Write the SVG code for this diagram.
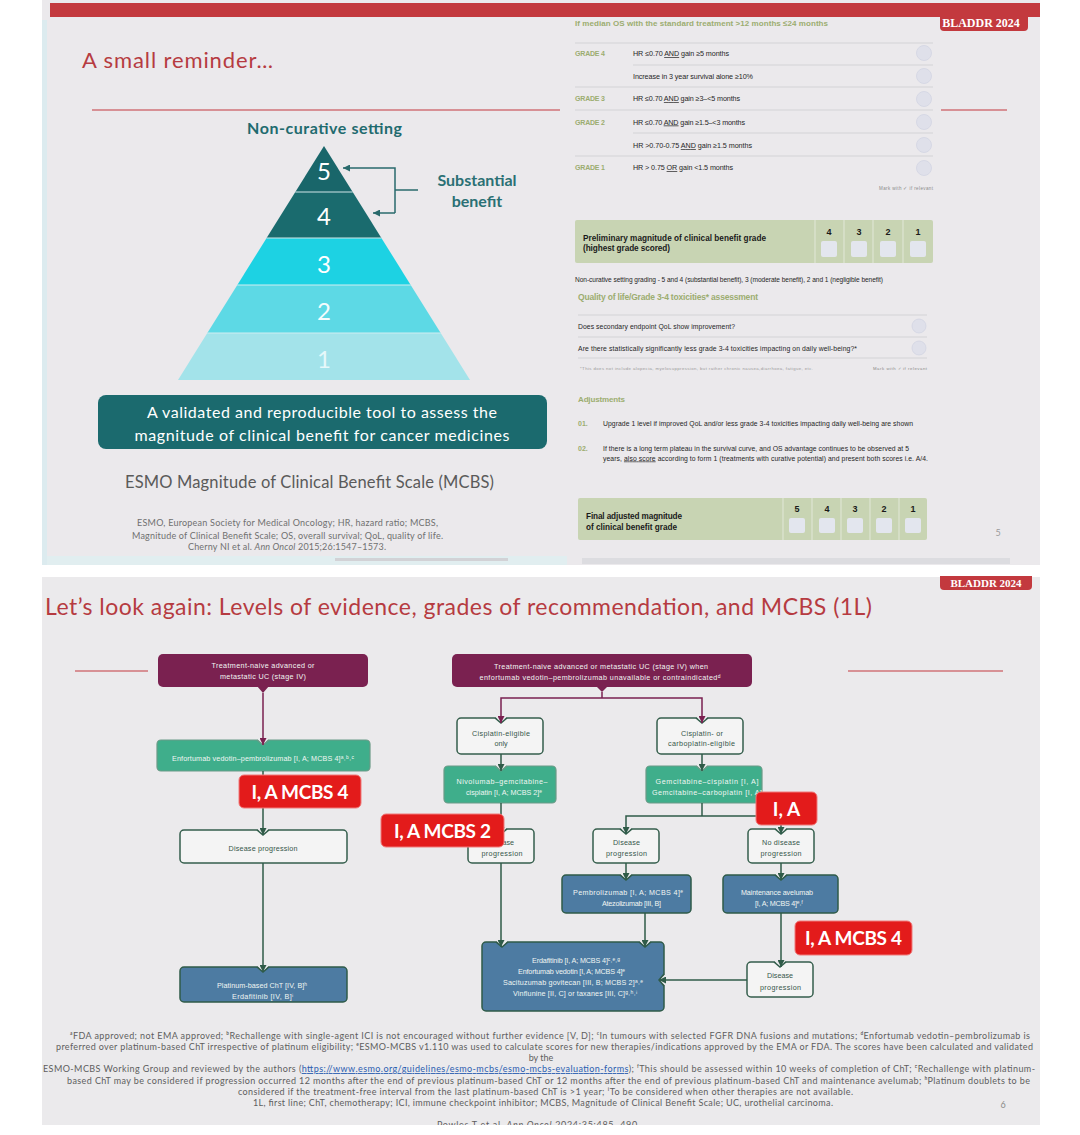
<svg xmlns="http://www.w3.org/2000/svg" width="1080" height="1135" viewBox="0 0 1080 1135">
<defs>
<style>
.lato{font-family:Lato,"Liberation Sans",sans-serif}
.fc{font-family:"Liberation Sans",Arial,sans-serif;font-size:7.2px;text-anchor:middle}
.tw{fill:#f1f6f3}
.td{fill:#36574a}
.pbox{fill:#7a2150}
.gbox{fill:#3fae8b;stroke:#6b9a87;stroke-width:1.2}
.bbox{fill:#4d7ba2;stroke:#2f5b48;stroke-width:1.5}
.wbox{fill:#f4f4f4;stroke:#355e4c;stroke-width:1.5}
.badge{fill:#e31b1b;stroke:#f07a7a;stroke-width:1}
.bt{font-family:Lato,"Liberation Sans",sans-serif;font-weight:bold;font-size:19px;fill:#ffffff;text-anchor:middle}
.cg{fill:none;stroke:#2f5b48;stroke-width:1.5}
.cp{fill:none;stroke:#7a2150;stroke-width:1.5}
.nf{fill:#ebeaec}
.ng{fill:none;stroke:#6b9a87;stroke-width:1.2}
.nb{fill:none;stroke:#2f5b48;stroke-width:1.5}
.gh{font-family:"Liberation Sans",Arial,sans-serif;font-weight:bold;fill:#9cad70}
.ft{font-family:"Liberation Sans",Arial,sans-serif;fill:#262626}
.row{stroke:#d3d3d6;stroke-width:1}
.circ{fill:#dfe0ea;stroke:#d2d4e2;stroke-width:0.8}
.sq{fill:#e3e6ee}
.dv{stroke:#e2e8d8;stroke-width:1}
.fn{font-family:Lato,"Liberation Sans",sans-serif;font-size:9px;fill:#5e5e5e}
.pyn{font-family:Lato,"Liberation Sans",sans-serif;font-size:24px;text-anchor:middle}
.bl{font-family:"Liberation Serif",serif;font-weight:bold;fill:#ffffff;text-anchor:middle}
</style>
<marker id="ag" viewBox="0 0 10 10" refX="10" refY="5" markerWidth="7" markerHeight="7" markerUnits="userSpaceOnUse" orient="auto"><path d="M0,0 L10,5 L0,10 z" fill="#2f5b48"/></marker>
<marker id="ap" viewBox="0 0 10 10" refX="10" refY="5" markerWidth="7" markerHeight="7" markerUnits="userSpaceOnUse" orient="auto"><path d="M0,0 L10,5 L0,10 z" fill="#7a2150"/></marker>
<marker id="at" viewBox="0 0 10 10" refX="10" refY="5" markerWidth="7" markerHeight="7" markerUnits="userSpaceOnUse" orient="auto"><path d="M0,0 L10,5 L0,10 z" fill="#2a6a6c"/></marker>
</defs>

<rect x="0" y="0" width="1080" height="1135" fill="#ffffff"/>

<!-- ================= TOP SLIDE ================= -->
<g id="slide-top">
<rect x="42" y="0" width="998" height="565" fill="#ebe9ec"/>
<rect x="42" y="20" width="5" height="545" fill="#dcebef"/>
<rect x="50" y="3" width="990" height="14" fill="#c3393e"/>
<path d="M940,14 H1028 V27 Q1028,31 1024,31 H944 Q940,31 940,27 Z" fill="#c3393e"/>
<text class="bl" x="981" y="27" font-size="12">BLADDR 2024</text>
<rect x="47" y="556" width="520" height="9" fill="#e1eef0"/>
<rect x="335" y="558" width="173" height="3" fill="#d2d2d6"/>
<rect x="582" y="558" width="428" height="6" fill="#dcdce0"/>

<text class="lato" x="82" y="68" font-size="22" fill="#b63b41" textLength="191">A small reminder…</text>
<line x1="92" y1="110" x2="560" y2="110" stroke="#c3393e" stroke-width="1.2"/>
<line x1="941" y1="110" x2="1007" y2="110" stroke="#c3393e" stroke-width="1.2"/>

<text class="lato" x="324.5" y="134" font-size="16" font-weight="bold" fill="#1f6b6f" text-anchor="middle" textLength="155">Non-curative setting</text>

<g id="pyramid">
<polygon points="324,146 295.3,192 352.7,192" fill="#19666a"/>
<polygon points="295.3,192 352.7,192 381.4,238 266.6,238" fill="#1a6b6e"/>
<polygon points="266.6,238 381.4,238 410.7,285 237.3,285" fill="#1dd2e3"/>
<polygon points="237.3,285 410.7,285 440.7,333 207.3,333" fill="#5dd9e5"/>
<polygon points="207.3,333 440.7,333 470,380 178,380" fill="#a3e3ea"/>
<line x1="295.3" y1="192" x2="352.7" y2="192" stroke="#cfe5e8" stroke-width="1.2"/>
<line x1="266.6" y1="238" x2="381.4" y2="238" stroke="#cfe5e8" stroke-width="1.2"/>
<line x1="237.3" y1="285" x2="410.7" y2="285" stroke="#cfeef2" stroke-width="1.2"/>
<line x1="207.3" y1="333" x2="440.7" y2="333" stroke="#cfeef2" stroke-width="1.2"/>
<text class="pyn" x="324" y="180" fill="#ffffff">5</text>
<text class="pyn" x="324" y="225" fill="#ffffff">4</text>
<text class="pyn" x="324" y="273" fill="#ffffff">3</text>
<text class="pyn" x="324" y="320" fill="#f4fcfd">2</text>
<text class="pyn" x="324" y="368" fill="#e6f8fa">1</text>
</g>

<g id="bracket" fill="none" stroke="#2a6a6c" stroke-width="1.5">
<polyline points="395,213 395,168 343,168" marker-end="url(#at)"/>
<line x1="395" y1="213" x2="373" y2="213" marker-end="url(#at)"/>
<line x1="395" y1="190" x2="418" y2="190"/>
</g>
<text class="lato" x="477" y="186" font-size="16" font-weight="bold" fill="#2a7074" text-anchor="middle">Substantial</text>
<text class="lato" x="477" y="207" font-size="16" font-weight="bold" fill="#2a7074" text-anchor="middle">benefit</text>

<g id="tool-box">
<rect x="98" y="395" width="449" height="54" rx="8" fill="#1b6a6e"/>
<text class="lato" x="322" y="418" font-size="16" fill="#ffffff" text-anchor="middle" textLength="350">A validated and reproducible tool to assess the</text>
<text class="lato" x="322" y="441" font-size="16" fill="#ffffff" text-anchor="middle" textLength="375">magnitude of clinical benefit for cancer medicines</text>
</g>
<text class="lato" x="309.5" y="488" font-size="16.5" fill="#5a5a5a" text-anchor="middle" textLength="369">ESMO Magnitude of Clinical Benefit Scale (MCBS)</text>
<g class="lato" font-size="9" fill="#707070" text-anchor="middle">
<text x="287.5" y="526" textLength="301">ESMO, European Society for Medical Oncology; HR, hazard ratio; MCBS,</text>
<text x="287.5" y="539" textLength="311">Magnitude of Clinical Benefit Scale; OS, overall survival; QoL, quality of life.</text>
<text x="287" y="550" textLength="198">Cherny NI et al. <tspan font-style="italic">Ann Oncol</tspan> 2015;26:1547–1573.</text>
</g>

<!-- form -->
<g id="form-grades">
<text class="gh" x="575" y="26" font-size="8" textLength="253">If median OS with the standard treatment &gt;12 months ≤24 months</text>
<line class="row" x1="575" y1="43" x2="933" y2="43"/>
<line class="row" x1="633" y1="65" x2="933" y2="65"/>
<line class="row" x1="575" y1="87" x2="933" y2="87"/>
<line class="row" x1="575" y1="110" x2="933" y2="110"/>
<line class="row" x1="633" y1="133" x2="933" y2="133"/>
<line class="row" x1="575" y1="156" x2="933" y2="156"/>
<text class="gh" x="575" y="56" font-size="7" textLength="30">GRADE 4</text>
<text class="gh" x="575" y="101" font-size="7" textLength="30">GRADE 3</text>
<text class="gh" x="575" y="124.5" font-size="7" textLength="30">GRADE 2</text>
<text class="gh" x="575" y="170" font-size="7" textLength="30">GRADE 1</text>
<g class="ft" font-size="7.2">
<text x="633" y="56" textLength="96">HR ≤0.70 <tspan text-decoration="underline">AND</tspan> gain ≥5 months</text>
<text x="633" y="79" textLength="120">Increase in 3 year survival alone ≥10%</text>
<text x="633" y="101" textLength="107">HR ≤0.70 <tspan text-decoration="underline">AND</tspan> gain ≥3–&lt;5 months</text>
<text x="633" y="124.5" textLength="112">HR ≤0.70 <tspan text-decoration="underline">AND</tspan> gain ≥1.5–&lt;3 months</text>
<text x="633" y="148" textLength="119">HR &gt;0.70-0.75 <tspan text-decoration="underline">AND</tspan> gain ≥1.5 months</text>
<text x="633" y="170" textLength="100">HR &gt; 0.75 <tspan text-decoration="underline">OR</tspan> gain &lt;1.5 months</text>
</g>
<circle class="circ" cx="924" cy="53" r="7.5"/>
<circle class="circ" cx="924" cy="76" r="7.5"/>
<circle class="circ" cx="924" cy="99" r="7.5"/>
<circle class="circ" cx="924" cy="122" r="7.5"/>
<circle class="circ" cx="924" cy="145" r="7.5"/>
<circle class="circ" cx="924" cy="168" r="7.5"/>
<text class="ft" x="933" y="190" font-size="4.5" text-anchor="end" textLength="54" style="fill:#8a8a8a">Mark with ✓ if relevant</text>
</g>

<g id="form-preliminary">
<rect x="575" y="220" width="358" height="43" rx="2" fill="#c8d4b3"/>
<line class="dv" x1="815" y1="220" x2="815" y2="263"/>
<line class="dv" x1="844" y1="220" x2="844" y2="263"/>
<line class="dv" x1="873" y1="220" x2="873" y2="263"/>
<line class="dv" x1="903" y1="220" x2="903" y2="263"/>
<text class="ft" x="583" y="240.5" font-size="8.2" font-weight="bold" textLength="183" style="fill:#1a1a1a">Preliminary magnitude of clinical benefit grade</text>
<text class="ft" x="583" y="251" font-size="8.2" font-weight="bold" textLength="87" style="fill:#1a1a1a">(highest grade scored)</text>
<g class="ft" font-size="9" font-weight="bold" text-anchor="middle" style="fill:#1a1a1a">
<text x="829" y="235">4</text><text x="859" y="235">3</text><text x="888" y="235">2</text><text x="918" y="235">1</text>
</g>
<rect class="sq" x="821" y="241" width="16" height="16" rx="2"/>
<rect class="sq" x="851" y="241" width="16" height="16" rx="2"/>
<rect class="sq" x="880" y="241" width="16" height="16" rx="2"/>
<rect class="sq" x="910" y="241" width="16" height="16" rx="2"/>
</g>

<g id="form-qol">
<text class="ft" x="575" y="282" font-size="6.6" textLength="308">Non-curative setting grading - 5 and 4 (substantial benefit), 3 (moderate benefit), 2 and 1 (negligible benefit)</text>
<text class="gh" x="578" y="300" font-size="8.5" textLength="180">Quality of life/Grade 3-4 toxicities* assessment</text>
<line class="row" x1="578" y1="315" x2="927" y2="315"/>
<line class="row" x1="578" y1="337" x2="927" y2="337"/>
<line class="row" x1="578" y1="358" x2="927" y2="358"/>
<text class="ft" x="578" y="328.5" font-size="6.8" textLength="157">Does secondary endpoint QoL show improvement?</text>
<text class="ft" x="578" y="350.5" font-size="6.8" textLength="279">Are there statistically significantly less grade 3-4 toxicities impacting on daily well-being?*</text>
<circle class="circ" cx="919" cy="326" r="7"/>
<circle class="circ" cx="919" cy="348" r="7"/>
<text class="ft" x="580" y="370" font-size="4.3" textLength="233" style="fill:#9a9a9a">*This does not include alopecia, myelosuppression, but rather chronic nausea,diarrhoea, fatigue, etc.</text>
<text class="ft" x="927" y="370" font-size="4.3" text-anchor="end" textLength="54" style="fill:#8a8a8a">Mark with ✓ if relevant</text>
</g>

<g id="form-adjustments">
<text class="gh" x="578" y="401.5" font-size="8" textLength="47">Adjustments</text>
<text class="gh" x="578" y="425.5" font-size="7" font-weight="normal">01.</text>
<text class="ft" x="603" y="425.5" font-size="6.8" textLength="310">Upgrade 1 level if improved QoL and/or less grade 3-4 toxicities impacting daily well-being are shown</text>
<text class="gh" x="578" y="450.5" font-size="7" font-weight="normal">02.</text>
<text class="ft" x="603" y="450.5" font-size="6.8" textLength="306">If there is a long term plateau in the survival curve, and OS advantage continues to be observed at 5</text>
<text class="ft" x="603" y="460.5" font-size="6.8" textLength="325">years, <tspan text-decoration="underline">also score</tspan> according to form 1 (treatments with curative potential) and present both scores i.e. A/4.</text>
</g>

<g id="form-final">
<rect x="578" y="498" width="349" height="42" rx="2" fill="#c8d4b3"/>
<line class="dv" x1="783" y1="498" x2="783" y2="540"/>
<line class="dv" x1="812" y1="498" x2="812" y2="540"/>
<line class="dv" x1="841" y1="498" x2="841" y2="540"/>
<line class="dv" x1="870" y1="498" x2="870" y2="540"/>
<line class="dv" x1="899" y1="498" x2="899" y2="540"/>
<text class="ft" x="586" y="518.5" font-size="8.2" font-weight="bold" textLength="96" style="fill:#1a1a1a">Final adjusted magnitude</text>
<text class="ft" x="586" y="529.5" font-size="8.2" font-weight="bold" textLength="91" style="fill:#1a1a1a">of clinical benefit grade</text>
<g class="ft" font-size="9" font-weight="bold" text-anchor="middle" style="fill:#1a1a1a">
<text x="797" y="512">5</text><text x="827" y="512">4</text><text x="855" y="512">3</text><text x="884" y="512">2</text><text x="913" y="512">1</text>
</g>
<rect class="sq" x="789" y="518" width="16" height="15" rx="2"/>
<rect class="sq" x="819" y="518" width="16" height="15" rx="2"/>
<rect class="sq" x="847" y="518" width="16" height="15" rx="2"/>
<rect class="sq" x="876" y="518" width="16" height="15" rx="2"/>
<rect class="sq" x="905" y="518" width="16" height="15" rx="2"/>
</g>
<text class="lato" x="998" y="536" font-size="9" fill="#9a9a9a" text-anchor="middle">5</text>
</g>

<!-- ================= BOTTOM SLIDE ================= -->
<g id="slide-bottom">
<rect x="42" y="577" width="998" height="548" fill="#ebeaec"/>
<path d="M940,576 H1032 V586 Q1032,590 1028,590 H944 Q940,590 940,586 Z" fill="#c3393e"/>
<text class="bl" x="986" y="587" font-size="11">BLADDR 2024</text>
<text class="lato" x="45" y="615" font-size="23" fill="#b63b41" textLength="827">Let’s look again: Levels of evidence, grades of recommendation, and MCBS (1L)</text>
<line x1="75" y1="671" x2="148" y2="671" stroke="#c3393e" stroke-width="1.2"/>
<line x1="848" y1="671" x2="1003" y2="671" stroke="#c3393e" stroke-width="1.2"/>
</g>

<g id="nodes">
<g id="n-a">
<rect class="pbox" x="158" y="654" width="210" height="33" rx="5"/>
<polygon class="pbox" points="257,686 269,686 263,693"/>
<text class="fc tw" x="263" y="667.5" textLength="103">Treatment-naive advanced or</text>
<text class="fc tw" x="263" y="678.5" textLength="86">metastatic UC (stage IV)</text>
</g>
<g id="n-b">
<rect class="gbox" x="157" y="740" width="213" height="31" rx="4"/>
<polygon class="nf" points="257,738.5 269,738.5 263,745"/>
<polyline class="ng" points="257,740 263,745 269,740"/>
<text class="fc tw" x="263" y="761" textLength="182">Enfortumab vedotin–pembrolizumab [I, A; MCBS 4]ᵃ˒ᵇ˒ᶜ</text>
</g>
<g id="n-c">
<rect class="wbox" x="180" y="830" width="167" height="33" rx="4"/>
<polygon class="nf" points="257,828.5 269,828.5 263,835"/>
<polyline class="nb" points="257,830 263,835 269,830"/>
<text class="fc td" x="263" y="850.5" textLength="69">Disease progression</text>
</g>
<g id="n-d">
<rect class="bbox" x="180" y="967" width="167" height="35" rx="4"/>
<polygon class="nf" points="257,965.5 269,965.5 263,972"/>
<polyline class="nb" points="257,967 263,972 269,967"/>
<text class="fc tw" x="262" y="987.5" textLength="90">Platinum-based ChT [IV, B]ʰ</text>
<text class="fc tw" x="262.5" y="998.5" textLength="61">Erdafitinib [IV, B]ⁱ</text>
</g>
<g id="n-e">
<rect class="pbox" x="452" y="654" width="300" height="33" rx="5"/>
<polygon class="pbox" points="596,686 608,686 602,692"/>
<text class="fc tw" x="601" y="668.5" textLength="214">Treatment-naive advanced or metastatic UC (stage IV) when</text>
<text class="fc tw" x="600" y="679.5" textLength="241">enfortumab vedotin–pembrolizumab unavailable or contraindicatedᵈ</text>
</g>
<g id="n-f">
<rect class="wbox" x="457" y="718" width="86" height="36" rx="4"/>
<polygon class="nf" points="495,716.5 507,716.5 501,723"/>
<polyline class="nb" points="495,718 501,723 507,718"/>
<text class="fc td" x="501" y="735.5" textLength="58">Cisplatin-eligible</text>
<text class="fc td" x="501" y="745.5">only</text>
</g>
<g id="n-g">
<rect class="wbox" x="657" y="718" width="86" height="36" rx="4"/>
<polygon class="nf" points="696,716.5 708,716.5 702,723"/>
<polyline class="nb" points="696,718 702,723 708,718"/>
<text class="fc td" x="702" y="735.5" textLength="42">Cisplatin- or</text>
<text class="fc td" x="701.5" y="745.5" textLength="67">carboplatin-eligible</text>
</g>
<g id="n-h">
<rect class="gbox" x="444" y="766" width="112" height="37" rx="4"/>
<polygon class="nf" points="495,764.5 507,764.5 501,771"/>
<polyline class="ng" points="495,766 501,771 507,766"/>
<text class="fc tw" x="502" y="783.5" textLength="91">Nivolumab–gemcitabine–</text>
<text class="fc tw" x="504" y="794.5" textLength="76">cisplatin [I, A; MCBS 2]ᵉ</text>
</g>
<g id="n-i">
<rect class="gbox" x="646" y="766" width="116" height="37" rx="4"/>
<polygon class="nf" points="696,764.5 708,764.5 702,771"/>
<polyline class="ng" points="696,766 702,771 708,766"/>
<text class="fc tw" x="707" y="783.5" textLength="103">Gemcitabine–cisplatin [I, A]</text>
<text class="fc tw" x="707" y="794.5" textLength="110">Gemcitabine–carboplatin [I, A]</text>
</g>
<g id="n-j">
<rect class="wbox" x="468" y="829" width="66" height="34" rx="4"/>
<polygon class="nf" points="495,827.5 507,827.5 501,834"/>
<polyline class="nb" points="495,829 501,834 507,829"/>
<text class="fc td" x="501" y="845" textLength="26">Disease</text>
<text class="fc td" x="502" y="855.5" textLength="41">progression</text>
</g>
<g id="n-k">
<rect class="wbox" x="593" y="829" width="66" height="34" rx="4"/>
<polygon class="nf" points="620,827.5 632,827.5 626,834"/>
<polyline class="nb" points="620,829 626,834 632,829"/>
<text class="fc td" x="626.5" y="845" textLength="27">Disease</text>
<text class="fc td" x="626.5" y="855.5" textLength="41">progression</text>
</g>
<g id="n-l">
<rect class="wbox" x="748" y="829" width="66" height="34" rx="4"/>
<polygon class="nf" points="775,827.5 787,827.5 781,834"/>
<polyline class="nb" points="775,829 781,834 787,829"/>
<text class="fc td" x="781" y="845" textLength="38">No disease</text>
<text class="fc td" x="781" y="855.5" textLength="41">progression</text>
</g>
<g id="n-m">
<rect class="bbox" x="562" y="875" width="129" height="38" rx="4"/>
<polygon class="nf" points="620,873.5 632,873.5 626,880"/>
<polyline class="nb" points="620,875 626,880 632,875"/>
<text class="fc tw" x="628" y="894.5" textLength="110">Pembrolizumab [I, A; MCBS 4]ᵉ</text>
<text class="fc tw" x="631.5" y="905.5" textLength="59">Atezolizumab [III, B]</text>
</g>
<g id="n-n">
<rect class="bbox" x="723" y="875" width="115" height="38" rx="4"/>
<polygon class="nf" points="775,873.5 787,873.5 781,880"/>
<polyline class="nb" points="775,875 781,880 787,875"/>
<text class="fc tw" x="777" y="894.5" textLength="72">Maintenance avelumab</text>
<text class="fc tw" x="779" y="905.5" textLength="48">[I, A; MCBS 4]ᵉ˒ᶠ</text>
</g>
<g id="n-o">
<rect class="bbox" x="482" y="942" width="182" height="69" rx="4"/>
<polygon class="nf" points="496,940.5 508,940.5 502,947"/>
<polyline class="nb" points="496,942 502,947 508,942"/>
<polygon class="nf" points="639,940.5 651,940.5 645,947"/>
<polyline class="nb" points="639,942 645,947 651,942"/>
<polygon class="nf" points="665.5,974 665.5,986 659,980"/>
<polyline class="nb" points="664,974 659,980 664,986"/>
<text class="fc tw" x="576" y="963" textLength="88">Erdafitinib [I, A; MCBS 4]ᶜ˒ᵉ˒ᵍ</text>
<text class="fc tw" x="571.5" y="974" textLength="107">Enfortumab vedotin [I, A; MCBS 4]ᵉ</text>
<text class="fc tw" x="573" y="985" textLength="140">Sacituzumab govitecan [III, B; MCBS 2]ᵃ˒ᵉ</text>
<text class="fc tw" x="575" y="996" textLength="124">Vinflunine [II, C] or taxanes [III, C]ᵍ˒ʰ˒ⁱ</text>
</g>
<g id="n-p">
<rect class="wbox" x="747" y="962" width="66" height="35" rx="4"/>
<polygon class="nf" points="774,960.5 786,960.5 780,967"/>
<polyline class="nb" points="774,962 780,967 786,962"/>
<text class="fc td" x="780" y="978" textLength="26">Disease</text>
<text class="fc td" x="780.5" y="989.5" textLength="41">progression</text>
</g>
</g>

<g id="connectors">
<line class="cp" x1="263" y1="693" x2="263" y2="745" marker-end="url(#ap)"/>
<line class="cg" x1="263" y1="771" x2="263" y2="835" marker-end="url(#ag)"/>
<line class="cg" x1="263" y1="863" x2="263" y2="972" marker-end="url(#ag)"/>
<line class="cp" x1="602" y1="692" x2="602" y2="698"/>
<polyline class="cp" points="602,698 501,698 501,723" marker-end="url(#ap)"/>
<polyline class="cp" points="602,698 702,698 702,723" marker-end="url(#ap)"/>
<line class="cg" x1="501" y1="754" x2="501" y2="771" marker-end="url(#ag)"/>
<line class="cg" x1="702" y1="754" x2="702" y2="771" marker-end="url(#ag)"/>
<line class="cg" x1="501" y1="803" x2="501" y2="834" marker-end="url(#ag)"/>
<line class="cg" x1="702" y1="803" x2="702" y2="816"/>
<polyline class="cg" points="702,816 626,816 626,834" marker-end="url(#ag)"/>
<polyline class="cg" points="702,816 781,816 781,834" marker-end="url(#ag)"/>
<line class="cg" x1="626" y1="863" x2="626" y2="880" marker-end="url(#ag)"/>
<line class="cg" x1="781" y1="863" x2="781" y2="880" marker-end="url(#ag)"/>
<line class="cg" x1="501" y1="863" x2="501" y2="947" marker-end="url(#ag)"/>
<line class="cg" x1="645" y1="913" x2="645" y2="947" marker-end="url(#ag)"/>
<line class="cg" x1="781" y1="913" x2="781" y2="967" marker-end="url(#ag)"/>
<line class="cg" x1="747" y1="980" x2="659" y2="980" marker-end="url(#ag)"/>
</g>

<g id="badges">
<g id="badge-left"><rect class="badge" x="239" y="775" width="122" height="33" rx="5"/><text class="bt" x="300" y="798.5" textLength="97">I, A MCBS 4</text></g>
<g id="badge-mid"><rect class="badge" x="381" y="814" width="123" height="33" rx="5"/><text class="bt" x="442.5" y="837.5" textLength="97">I, A MCBS 2</text></g>
<g id="badge-ia"><rect class="badge" x="756" y="792" width="61" height="33" rx="5"/><text class="bt" x="786.5" y="815.5">I, A</text></g>
<g id="badge-right"><rect class="badge" x="795" y="921" width="117" height="34" rx="5"/><text class="bt" x="853.5" y="945" textLength="97">I, A MCBS 4</text></g>
</g>

<g id="footnotes" class="fn">
<text x="70" y="1039" textLength="960">ᵃFDA approved; not EMA approved; ᵇRechallenge with single-agent ICI is not encouraged without further evidence [V, D]; ᶜIn tumours with selected FGFR DNA fusions and mutations; ᵈEnfortumab vedotin–pembrolizumab is</text>
<text x="56" y="1050" textLength="977">preferred over platinum-based ChT irrespective of platinum eligibility; ᵉESMO-MCBS v1.110 was used to calculate scores for new therapies/indications approved by the EMA or FDA. The scores have been calculated and validated</text>
<text x="541" y="1061" text-anchor="middle">by the</text>
<text x="43" y="1072" textLength="992">ESMO-MCBS Working Group and reviewed by the authors (<tspan fill="#2a5db0" text-decoration="underline">https://www.esmo.org/guidelines/esmo-mcbs/esmo-mcbs-evaluation-forms</tspan>); ᶠThis should be assessed within 10 weeks of completion of ChT; ᵍRechallenge with platinum-</text>
<text x="67" y="1084" textLength="963">based ChT may be considered if progression occurred 12 months after the end of previous platinum-based ChT or 12 months after the end of previous platinum-based ChT and maintenance avelumab; ʰPlatinum doublets to be</text>
<text x="238" y="1095" textLength="615">considered if the treatment-free interval from the last platinum-based ChT is &gt;1 year; ⁱTo be considered when other therapies are not available.</text>
<text x="253" y="1106" textLength="580">1L, first line; ChT, chemotherapy; ICI, immune checkpoint inhibitor; MCBS, Magnitude of Clinical Benefit Scale; UC, urothelial carcinoma.</text>
<text x="437" y="1128" textLength="203">Powles T et al. <tspan font-style="italic">Ann Oncol</tspan> 2024;35:485–490.</text>
<text x="1003" y="1108" text-anchor="middle" fill="#8a8a8a">6</text>
</g>
<rect x="0" y="1125" width="1080" height="10" fill="#ffffff"/>
</svg>
